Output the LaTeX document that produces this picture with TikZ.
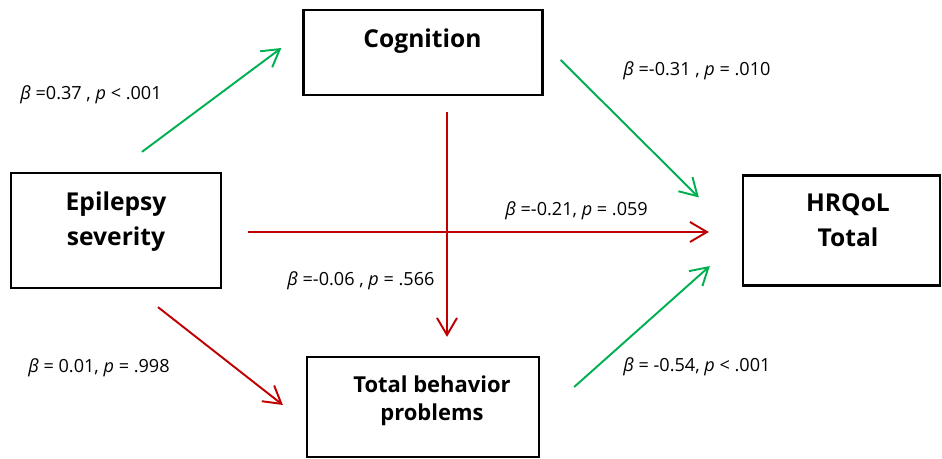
\documentclass[tikz,border=0pt]{standalone}
\usepackage{fontspec}
\setmainfont{Open Sans}
\usepackage{xcolor}
\usetikzlibrary{arrows.meta}
\definecolor{pathgreen}{RGB}{0,176,80}
\definecolor{pathred}{RGB}{192,0,0}

\begin{document}
\begin{tikzpicture}[
  varbox/.style={draw, line width=1.3pt, rectangle},
  vartext/.style={font=\fontsize{14}{19.8}\selectfont\bfseries, align=center, inner sep=0pt},
  grnarrow/.style={draw=pathgreen, line width=1.1pt, -{Straight Barb[length=3.4mm,width=4mm]}},
  redarrow/.style={draw=pathred, line width=1.1pt, -{Straight Barb[length=3.4mm,width=4mm]}},
  coef/.style={font=\fontsize{10.3}{12}\selectfont, anchor=west, inner sep=0pt}
]
\useasboundingbox (0,0) rectangle (18.84,9.18);
% variables
\node[varbox, minimum width=4.78cm, minimum height=1.70cm] (cog) at (8.46,8.13) {};
\node[varbox, minimum width=4.20cm, minimum height=2.30cm] (epi) at (2.32,4.57) {};
\node[varbox, minimum width=3.94cm, minimum height=2.20cm] (hrq) at (16.83,4.57) {};
\node[varbox, minimum width=4.64cm, minimum height=2.00cm] (tbp) at (8.46,1.04) {};
\node[vartext] (cogtxt) at (8.45,8.35) {Cognition};
\node[vartext] (epitxt) at (2.32,4.74) {Epilepsy\\severity};
\node[vartext] (hrqtxt) at (16.96,4.77) {HRQoL\\Total};
\node[vartext, font=\fontsize{12.5}{15.9}\selectfont\bfseries] (tbptxt) at (8.64,1.16) {Total behavior\\problems};
% paths
\draw[grnarrow] ([xshift=0.52cm,yshift=0.40cm]epi.north) -- ([xshift=-0.42cm,yshift=0.09cm]cog.west);
\draw[grnarrow] ([xshift=0.34cm,yshift=-0.15cm]cog.east) -- ([xshift=-0.86cm,yshift=0.66cm]hrq.west);
\draw[redarrow] ([xshift=0.52cm,yshift=-0.03cm]epi.east) -- ([xshift=-0.66cm,yshift=-0.03cm]hrq.west);
\draw[redarrow] ([xshift=0.48cm,yshift=-0.32cm]cog.south) -- ([xshift=0.48cm,yshift=0.38cm]tbp.north);
\draw[redarrow] ([xshift=0.84cm,yshift=-0.36cm]epi.south) -- ([xshift=-0.46cm,yshift=0.04cm]tbp.west);
\draw[grnarrow] ([xshift=0.68cm,yshift=0.40cm]tbp.east) -- ([xshift=-0.64cm,yshift=-0.71cm]hrq.west);
% coefficients
\node[coef] (c1) at (0.40,7.28) {\textit{β} =0.37 , \textit{p} < .001};
\node[coef] (c2) at (12.46,7.76) {\textit{β} =-0.31 , \textit{p} = .010};
\node[coef] (c3) at (10.10,4.96) {\textit{β} =-0.21, \textit{p} = .059};
\node[coef] (c4) at (5.74,3.56) {\textit{β} =-0.06 , \textit{p} = .566};
\node[coef] (c5) at (0.56,1.82) {\textit{β} = 0.01, \textit{p} = .998};
\node[coef] (c6) at (12.46,1.84) {\textit{β} = -0.54, \textit{p} < .001};
\end{tikzpicture}
\end{document}
